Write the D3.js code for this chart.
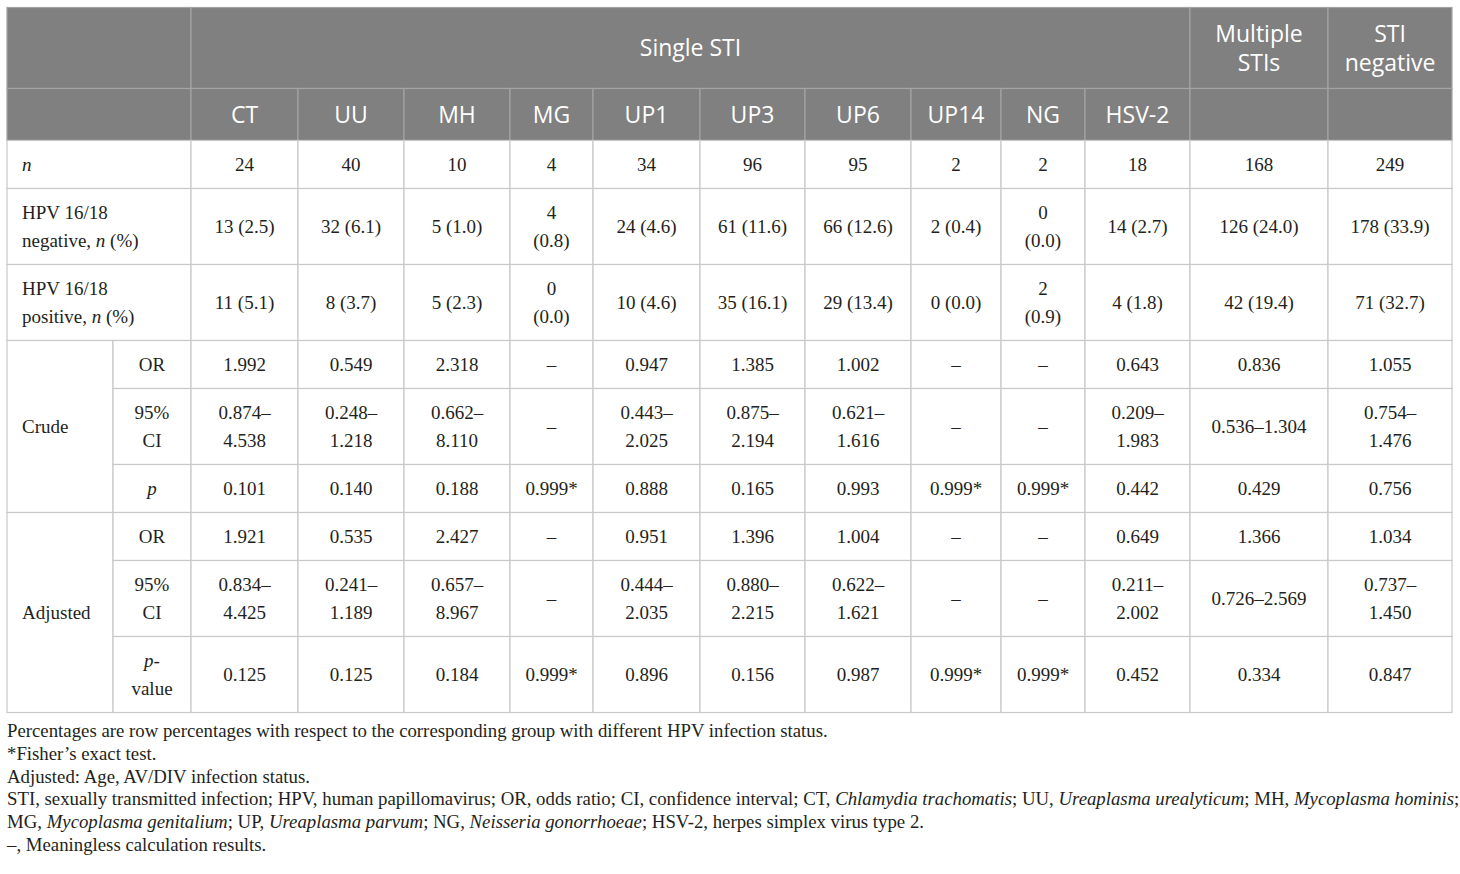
<!DOCTYPE html>
<html>
<head>
<meta charset="utf-8">
<script src="https://cdn.jsdelivr.net/npm/d3@7"></script>
<style>
  body { margin: 0; background: #fff; }
</style>
</head>
<body>
<div id="table"></div>
<script>
(function(){
  const stiTypes = ["CT", "UU", "MH", "MG", "UP1", "UP3", "UP6", "UP14", "NG", "HSV-2"];
  const groupLabels = ["Multiple STIs", "STI negative"];
  const topHeader = "Single STI";

  const nCounts = ["24", "40", "10", "4", "34", "96", "95", "2", "2", "18", "168", "249"];
  const hpvNegative = ["13 (2.5)", "32 (6.1)", "5 (1.0)", "4 (0.8)", "24 (4.6)", "61 (11.6)", "66 (12.6)", "2 (0.4)", "0 (0.0)", "14 (2.7)", "126 (24.0)", "178 (33.9)"];
  const hpvPositive = ["11 (5.1)", "8 (3.7)", "5 (2.3)", "0 (0.0)", "10 (4.6)", "35 (16.1)", "29 (13.4)", "0 (0.0)", "2 (0.9)", "4 (1.8)", "42 (19.4)", "71 (32.7)"];

  const crudeOR = ["1.992", "0.549", "2.318", "–", "0.947", "1.385", "1.002", "–", "–", "0.643", "0.836", "1.055"];
  const crudeCI = ["0.874–4.538", "0.248–1.218", "0.662–8.110", "–", "0.443–2.025", "0.875–2.194", "0.621–1.616", "–", "–", "0.209–1.983", "0.536–1.304", "0.754–1.476"];
  const crudeP = ["0.101", "0.140", "0.188", "0.999*", "0.888", "0.165", "0.993", "0.999*", "0.999*", "0.442", "0.429", "0.756"];

  const adjOR = ["1.921", "0.535", "2.427", "–", "0.951", "1.396", "1.004", "–", "–", "0.649", "1.366", "1.034"];
  const adjCI = ["0.834–4.425", "0.241–1.189", "0.657–8.967", "–", "0.444–2.035", "0.880–2.215", "0.622–1.621", "–", "–", "0.211–2.002", "0.726–2.569", "0.737–1.450"];
  const adjP = ["0.125", "0.125", "0.184", "0.999*", "0.896", "0.156", "0.987", "0.999*", "0.999*", "0.452", "0.334", "0.847"];

  // underscores mark italic runs
  const rowLabels = ["_n_", "HPV 16/18 negative, _n_ (%)", "HPV 16/18 positive, _n_ (%)"];
  const modelLabels = ["Crude", "Adjusted"];
  const statLabels = ["OR", "95% CI", "_p_"];
  const statLabelsAdj = ["OR", "95% CI", "_p_-value"];

  const footnotes = [
    "Percentages are row percentages with respect to the corresponding group with different HPV infection status.",
    "*Fisher’s exact test.",
    "Adjusted: Age, AV/DIV infection status.",
    "STI, sexually transmitted infection; HPV, human papillomavirus; OR, odds ratio; CI, confidence interval; CT, _Chlamydia trachomatis_; UU, _Ureaplasma urealyticum_; MH, _Mycoplasma hominis_;",
    "MG, _Mycoplasma genitalium_; UP, _Ureaplasma parvum_; NG, _Neisseria gonorrhoeae_; HSV-2, herpes simplex virus type 2.",
    "–, Meaningless calculation results."
  ];

  // ---- layout ----
  const W = 1460, H = 874;
  const left = 7, top = 7.5;
  const colKeys = ["lab", "sub"].concat(stiTypes, groupLabels);
  const colWidths = [106, 78, 107, 106, 106, 83, 107, 105, 106, 90, 84, 105, 138, 124];
  const rowKeys = ["h1", "h2", "n", "neg", "pos", "cOR", "cCI", "cP", "aOR", "aCI", "aP"];

  const bodyFont = "'Liberation Serif', 'Times New Roman', serif";
  const headFont = "'Open Sans', 'Noto Sans', sans-serif";
  const bodySize = 19, headSize = 23, noteSize = 18.8;
  const bodyLine = 28, headLine = 29;
  const padX = 17.2;

  const x = d3.scaleOrdinal()
    .domain(colKeys)
    .range(Array.from(d3.cumsum([0].concat(colWidths.slice(0, -1)))).map(v => v + left));
  const colW = d3.scaleOrdinal().domain(colKeys).range(colWidths);

  const svg = d3.select("#table")
    .append("svg")
    .attr("width", W)
    .attr("height", H);

  // ---- cells ----
  const cells = [];
  function addCell(r0, r1, c0, c1, text, opt) {
    cells.push(Object.assign({ r0, r1, c0, c1, text, align: "middle", header: false }, opt || {}));
  }

  addCell("h1", "h1", "lab", "sub", "", { header: true });
  addCell("h1", "h1", stiTypes[0], stiTypes[stiTypes.length - 1], topHeader, { header: true });
  groupLabels.forEach(g => addCell("h1", "h1", g, g, g, { header: true }));
  addCell("h2", "h2", "lab", "sub", "", { header: true });
  stiTypes.forEach(s => addCell("h2", "h2", s, s, s, { header: true }));
  groupLabels.forEach(g => addCell("h2", "h2", g, g, "", { header: true }));

  const groups = stiTypes.concat(groupLabels);
  [["n", nCounts], ["neg", hpvNegative], ["pos", hpvPositive]].forEach(([r, vals], i) => {
    addCell(r, r, "lab", "sub", rowLabels[i], { align: "start" });
    groups.forEach((g, j) => addCell(r, r, g, g, vals[j]));
  });

  const models = [
    [["cOR", crudeOR], ["cCI", crudeCI], ["cP", crudeP]],
    [["aOR", adjOR], ["aCI", adjCI], ["aP", adjP]]
  ];
  models.forEach((rows, m) => {
    addCell(rows[0][0], rows[2][0], "lab", "lab", modelLabels[m], { align: "start" });
    const labels = m === 0 ? statLabels : statLabelsAdj;
    rows.forEach(([r, vals], k) => {
      addCell(r, r, "sub", "sub", labels[k]);
      groups.forEach((g, j) => addCell(r, r, g, g, vals[j]));
    });
  });

  // ---- text wrapping ----
  const probe = svg.append("text").attr("visibility", "hidden");
  function parse(str) {
    return str.split("_").map((t, i) => ({ t, it: i % 2 === 1 })).filter(s => s.t.length);
  }
  function measure(segs, header) {
    probe.selectAll("tspan").remove();
    probe.style("font-family", header ? headFont : bodyFont)
      .style("font-size", (header ? headSize : bodySize) + "px");
    segs.forEach((s, i) => {
      const t = i === segs.length - 1 ? s.t.replace(/\s+$/, "") : s.t;
      probe.append("tspan").style("font-style", s.it ? "italic" : "normal").text(t);
    });
    return probe.node().getComputedTextLength();
  }
  function wrap(str, width, header) {
    const tokens = [];
    parse(str).forEach(s => s.t.split(/(?<=[ \-–])/).forEach(p => tokens.push({ t: p, it: s.it })));
    const lines = [];
    let cur = [];
    tokens.forEach(tok => {
      const trial = cur.concat([tok]);
      if (cur.length && measure(trial, header) > width) {
        lines.push(cur);
        cur = [tok];
      } else {
        cur = trial;
      }
    });
    if (cur.length) lines.push(cur);
    return lines.map(l => l.map((s, i) => i === l.length - 1 ? { t: s.t.replace(/\s+$/, ""), it: s.it } : s));
  }

  cells.forEach(c => {
    c.x0 = x(c.c0);
    c.x1 = x(c.c1) + colW(c.c1);
    c.lines = c.text ? wrap(c.text, c.x1 - c.x0 - 2 * padX, c.header) : [];
  });

  // row heights follow the tallest single-row cell
  const rowHeights = rowKeys.map(r => {
    const hdr = r === "h1" || r === "h2";
    const n = d3.max(cells.filter(c => c.r0 === r && c.r1 === r), c => c.lines.length) || 1;
    return hdr ? n * headLine + 23 : n * bodyLine + 20;
  });
  const y = d3.scaleOrdinal()
    .domain(rowKeys)
    .range(Array.from(d3.cumsum([0].concat(rowHeights.slice(0, -1)))).map(v => v + top));
  const rowH = d3.scaleOrdinal().domain(rowKeys).range(rowHeights);

  cells.forEach(c => {
    c.y0 = y(c.r0);
    c.y1 = y(c.r1) + rowH(c.r1);
  });

  // ---- draw ----
  // header cells first so body borders sit on top
  const order = cells.slice().sort((a, b) => (b.header ? 1 : 0) - (a.header ? 1 : 0));
  svg.append("g")
    .selectAll("rect")
    .data(order)
    .join("rect")
    .attr("x", d => d.x0)
    .attr("y", d => d.y0)
    .attr("width", d => d.x1 - d.x0)
    .attr("height", d => d.y1 - d.y0)
    .attr("fill", d => d.header ? "#808080" : "#fff")
    .attr("stroke", d => d.header ? "#a3a3a3" : "#c9c9c9")
    .attr("stroke-width", 1.2);

  const txt = svg.append("g")
    .selectAll("g")
    .data(cells.filter(c => c.lines.length))
    .join("g");

  txt.each(function(c) {
    const g = d3.select(this);
    const lh = c.header ? headLine : bodyLine;
    const cy = (c.y0 + c.y1) / 2;
    const tx = c.align === "start" ? c.x0 + 15 : (c.x0 + c.x1) / 2;
    c.lines.forEach((line, i) => {
      const t = g.append("text")
        .attr("x", tx)
        .attr("y", cy + (i - (c.lines.length - 1) / 2) * lh)
        .attr("dy", c.header ? "0.36em" : "0.33em")
        .attr("text-anchor", c.align)
        .style("font-family", c.header ? headFont : bodyFont)
        .style("font-size", (c.header ? headSize : bodySize) + "px")
        .attr("fill", c.header ? "#fff" : "#231f20");
      line.forEach(s => t.append("tspan").style("font-style", s.it ? "italic" : "normal").text(s.t));
    });
  });

  probe.remove();

  // ---- footnotes ----
  const notes = svg.append("g")
    .selectAll("text")
    .data(footnotes)
    .join("text")
    .attr("x", left)
    .attr("y", (d, i) => 737 + i * 22.8)
    .style("font-family", bodyFont)
    .style("font-size", noteSize + "px")
    .attr("fill", "#231f20");

  notes.each(function(d) {
    const t = d3.select(this);
    parse(d).forEach(s => t.append("tspan").style("font-style", s.it ? "italic" : "normal").text(s.t));
  });
})();
</script>
</body>
</html>
